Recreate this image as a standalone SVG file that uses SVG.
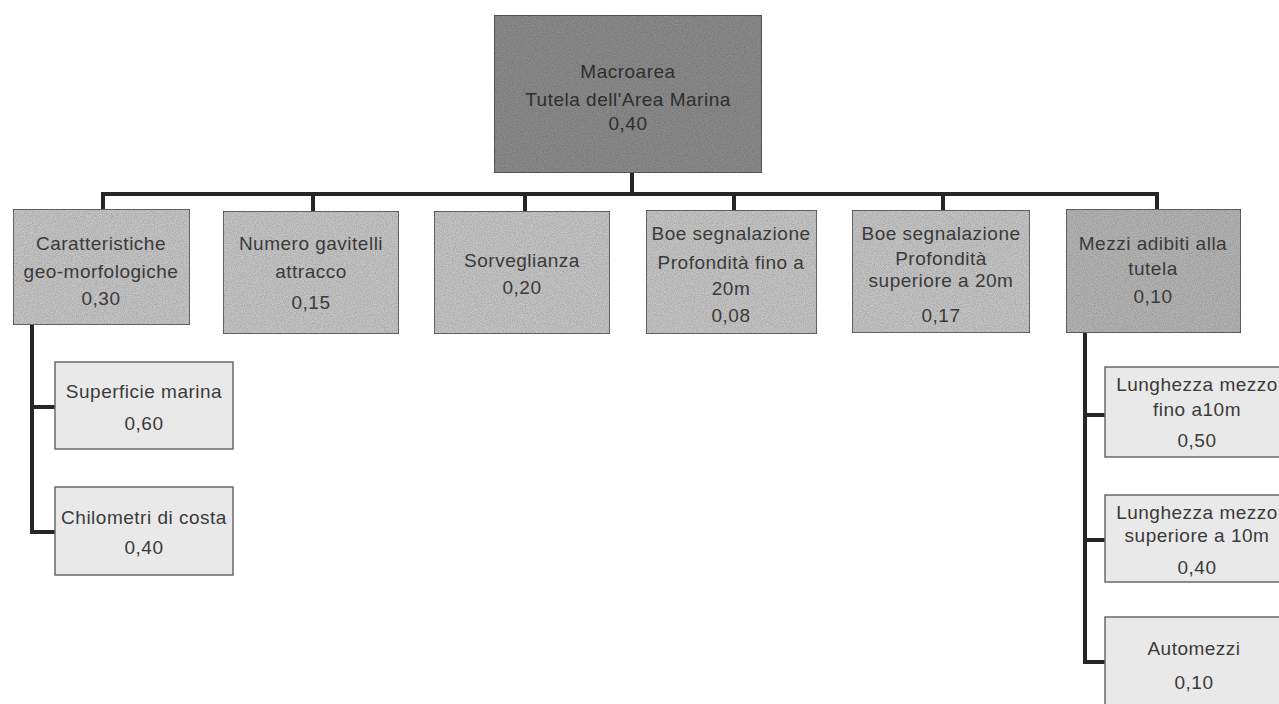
<svg xmlns="http://www.w3.org/2000/svg" width="1279" height="704" viewBox="0 0 1279 704">
<defs>
<filter id="grain" x="0" y="0" width="100%" height="100%">
<feTurbulence type="fractalNoise" baseFrequency="0.9" numOctaves="2" seed="3" result="n"/>
<feColorMatrix in="n" type="matrix" values="0 0 0 0 0  0 0 0 0 0  0 0 0 0 0  0 0 0 0.55 -0.12" result="dots"/>
<feComposite in="dots" in2="SourceGraphic" operator="in" result="d2"/>
<feMerge><feMergeNode in="SourceGraphic"/><feMergeNode in="d2"/></feMerge>
</filter>
<style>
.box{stroke:#4a4a4a;stroke-width:1.5}
.root{fill:#8e8e8e}
.lvl1{fill:#c9c9c9}
.lvl1d{fill:#b8b8b8}
.lvl2{fill:#e9e9e9;stroke:#6a6a6a}
.t{font-family:"Liberation Sans",Arial,sans-serif;font-size:19px;letter-spacing:0.5px;fill:#3a3a3a;text-anchor:middle;dominant-baseline:central}
.rt{fill:#2e2e2e}
.conn{fill:none;stroke:#262626;stroke-width:4;stroke-linejoin:miter}
</style>
</defs>
<rect width="1279" height="704" fill="#ffffff"/>
<g id="connectors">
<path class="conn" d="M632 173V194"/>
<path class="conn" d="M103 209V194H1157V209"/>
<path class="conn" d="M313 194V211M525 194V211M734 194V210M943 194V210"/>
<path class="conn" d="M32 325V532H55M32 407H55"/>
<path class="conn" d="M1085 333V662H1105M1085 415H1105M1085 540H1105"/>
</g>
<g id="root">
<rect class="box root" x="494" y="15" width="268" height="158" filter="url(#grain)"/>
<text class="t rt" x="628" y="71">Macroarea</text>
<text class="t rt" x="628" y="99">Tutela dell'Area  Marina</text>
<text class="t rt" x="628" y="123">0,40</text>
</g>
<g id="caratteristiche">
<rect class="box lvl1" x="13" y="209" width="177" height="116" filter="url(#grain)"/>
<text class="t" x="101" y="243">Caratteristiche</text>
<text class="t" x="101" y="271">geo-morfologiche</text>
<text class="t" x="101" y="298">0,30</text>
</g>
<g id="gavitelli">
<rect class="box lvl1" x="223" y="211" width="176" height="123" filter="url(#grain)"/>
<text class="t" x="311" y="243">Numero gavitelli</text>
<text class="t" x="311" y="271">attracco</text>
<text class="t" x="311" y="302">0,15</text>
</g>
<g id="sorveglianza">
<rect class="box lvl1" x="434" y="211" width="176" height="123" filter="url(#grain)"/>
<text class="t" x="522" y="260">Sorveglianza</text>
<text class="t" x="522" y="287">0,20</text>
</g>
<g id="boe20">
<rect class="box lvl1" x="646" y="210" width="171" height="124" filter="url(#grain)"/>
<text class="t" x="731" y="233">Boe segnalazione</text>
<text class="t" x="731" y="262">Profondità fino a</text>
<text class="t" x="731" y="288">20m</text>
<text class="t" x="731" y="315">0,08</text>
</g>
<g id="boesup">
<rect class="box lvl1" x="852" y="210" width="178" height="123" filter="url(#grain)"/>
<text class="t" x="941" y="233">Boe segnalazione</text>
<text class="t" x="941" y="258">Profondità</text>
<text class="t" x="941" y="280">superiore a 20m</text>
<text class="t" x="941" y="315">0,17</text>
</g>
<g id="mezzi">
<rect class="box lvl1d" x="1066" y="209" width="175" height="124" filter="url(#grain)"/>
<text class="t" x="1153" y="243">Mezzi adibiti alla</text>
<text class="t" x="1153" y="268">tutela</text>
<text class="t" x="1153" y="296">0,10</text>
</g>
<g id="superficie">
<rect class="box lvl2" x="55" y="362" width="178" height="87"/>
<text class="t" x="144" y="391">Superficie marina</text>
<text class="t" x="144" y="423">0,60</text>
</g>
<g id="chilometri">
<rect class="box lvl2" x="55" y="487" width="178" height="88"/>
<text class="t" x="144" y="517">Chilometri di costa</text>
<text class="t" x="144" y="547">0,40</text>
</g>
<g id="lunghezza10">
<rect class="box lvl2" x="1105" y="367" width="180" height="90"/>
<text class="t" x="1197" y="384">Lunghezza mezzo</text>
<text class="t" x="1197" y="409">fino a10m</text>
<text class="t" x="1197" y="440">0,50</text>
</g>
<g id="lunghezzasup">
<rect class="box lvl2" x="1105" y="495" width="180" height="87"/>
<text class="t" x="1197" y="512">Lunghezza mezzo</text>
<text class="t" x="1197" y="535">superiore a 10m</text>
<text class="t" x="1197" y="567">0,40</text>
</g>
<g id="automezzi">
<rect class="box lvl2" x="1105" y="617" width="180" height="100"/>
<text class="t" x="1194" y="648">Automezzi</text>
<text class="t" x="1194" y="682">0,10</text>
</g>
</svg>
